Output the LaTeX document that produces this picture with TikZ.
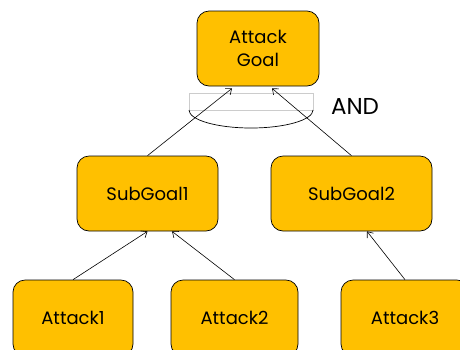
\documentclass[tikz,border=0pt]{standalone}
\usepackage{fontspec}
\setmainfont{Poppins}
\usepackage{tikz}
\usepackage{xcolor}
\usetikzlibrary{arrows.meta,calc,positioning}
\definecolor{gold}{HTML}{FFC000}
\begin{document}
\begin{tikzpicture}[x=1pt, y=-1pt,
          goalbox/.style={draw, rounded corners=12pt, minimum height=75pt, align=center, fill=gold, font=\fontsize{18}{23}\selectfont, line width=0.7pt},
          arr/.style={-{Straight Barb[length=5pt, width=8pt]}, line width=0.6pt}
      ]
        \useasboundingbox (0,0) rectangle (460,349);
        \clip (0,0) rectangle (460,349);
        \node[goalbox, minimum width=122pt] (goal) at (258,48.5) {Attack\\Goal};
        \node[goalbox, minimum width=141pt] (sub1) at (147.5,193.5) {SubGoal1};
        \node[goalbox, minimum width=161pt] (sub2) at (351.5,193.5) {SubGoal2};
        \node[goalbox, minimum width=120pt, minimum height=76pt] (att1) at (73,318) {Attack1};
        \node[goalbox, minimum width=127pt, minimum height=76pt] (att2) at (234.5,318) {Attack2};
        \node[goalbox, minimum width=128pt, minimum height=76pt] (att3) at (405,318) {Attack3};
        % AND gate
        \draw[gray!40, line width=0.5pt] (189,93) rectangle (313,110);
        \draw[line width=0.7pt] (189,110) arc[start angle=180, end angle=0, x radius=62, y radius=18];
        \node[font=\fontsize{23}{27}\selectfont] (and) at (355,106) {AND};
        \draw[arr] (sub1.north) -- ([xshift=-26pt, yshift=-2pt]goal.south);
        \draw[arr] (sub2.north) -- ([xshift=14pt, yshift=-2pt]goal.south);
        \draw[arr] (att1.north) -- (sub1.south);
        \draw[arr] (att2.north) -- ([xshift=24.5pt]sub1.south);
        \draw[arr] (att3.north) -- ([xshift=15.5pt]sub2.south);
      \end{tikzpicture}
\end{document}
